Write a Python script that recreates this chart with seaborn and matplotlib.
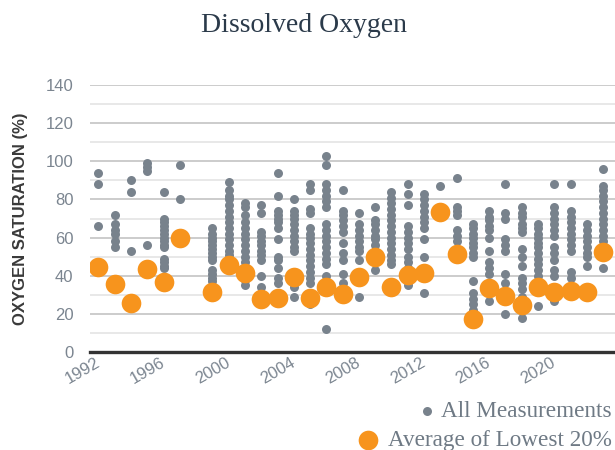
import numpy as np
import pandas as pd
import matplotlib
matplotlib.use("Agg")
import matplotlib.pyplot as plt
from matplotlib.ticker import MultipleLocator
import seaborn as sns

# sampling years (1998 has no data)
years = [1992, 1993, 1994, 1995, 1996, 1997, 1999, 2000, 2001, 2002, 2003,
         2004, 2005, 2006, 2007, 2008, 2009, 2010, 2011, 2012, 2013, 2014,
         2015, 2016, 2017, 2018, 2019, 2020, 2021, 2022, 2023]

# every measurement, one list per year (% saturation)
measurements = [
    [94, 88, 66, 45, 43],
    [72, 67, 64, 62, 58, 55, 36, 34],
    [90, 84, 53, 26, 25],
    [99, 97, 95, 56, 44, 43],
    [84, 70, 68, 66, 64, 62, 60, 58, 56, 55, 49, 47, 45, 44, 37, 35],
    [98, 80, 60, 59],
    [65, 62, 60, 58, 56, 54, 52, 50, 48, 43, 41, 39, 37, 34, 32, 29],
    [89, 85, 82, 80, 77, 74, 71, 68, 65, 62, 59, 56, 53, 51, 47, 44],
    [78, 76, 72, 68, 65, 62, 59, 56, 53, 50, 47, 44, 41, 38, 35],
    [77, 73, 63, 61, 58, 56, 53, 51, 48, 40, 34, 30, 28, 26],
    [94, 82, 74, 72, 70, 68, 65, 59, 50, 48, 44, 39, 36, 30, 28, 26],
    [80, 74, 72, 70, 67, 64, 61, 58, 55, 53, 40, 37, 34, 29],
    [88, 85, 75, 73, 65, 62, 60, 57, 54, 51, 48, 45, 42, 39, 36, 31, 28, 25],
    [103, 98, 88, 85, 82, 79, 76, 67, 64, 61, 58, 55, 52, 49, 46, 40, 34, 12],
    [85, 74, 72, 69, 66, 63, 57, 52, 48, 41, 36, 30],
    [73, 67, 64, 61, 58, 55, 53, 48, 41, 38, 29],
    [76, 69, 67, 64, 61, 59, 56, 53, 50, 47, 43],
    [84, 81, 78, 75, 72, 69, 66, 63, 60, 57, 54, 51, 48, 46, 36, 33],
    [88, 83, 77, 66, 63, 60, 57, 54, 50, 47, 44, 41, 38, 35],
    [83, 80, 77, 74, 71, 68, 65, 59, 50, 43, 41, 31],
    [87, 74],
    [91, 76, 74, 72, 64, 61, 58, 52],
    [67, 65, 62, 60, 57, 55, 52, 50, 37, 31, 28, 25, 22, 17, 15],
    [74, 71, 69, 66, 64, 60, 53, 47, 44, 41, 34, 27],
    [88, 73, 70, 59, 56, 53, 41, 36, 30, 20],
    [76, 73, 71, 67, 65, 63, 54, 50, 45, 39, 36, 33, 29, 24, 18],
    [67, 65, 62, 60, 57, 55, 52, 49, 46, 43, 40, 37, 33, 24],
    [88, 76, 73, 70, 67, 64, 61, 55, 52, 48, 43, 40, 32, 27],
    [88, 74, 71, 68, 65, 62, 59, 56, 53, 42, 39, 32, 30],
    [67, 64, 61, 58, 55, 52, 50, 45, 33, 31],
    [96, 87, 85, 82, 79, 76, 73, 70, 67, 64, 61, 58, 55, 52, 44],
]

# average of the lowest 20% per year
avg_lowest = [44.4, 35.5, 25.5, 43.5, 36.5, 59.6, 31.6, 45.6, 41.6, 27.8, 28.1,
              39.5, 28.1, 33.9, 30.4, 39.5, 49.6, 34.2, 40.4, 41.6, 73.6, 51.6,
              17.3, 33.4, 29.5, 24.6, 34.2, 31.6, 32.1, 31.6, 52.6]

tick_years = [1992, 1996, 2000, 2004, 2008, 2012, 2016, 2020]
y_ticks = [0, 20, 40, 60, 80, 100, 120, 140]

all_df = pd.DataFrame({
    "year": np.repeat(years, [len(m) for m in measurements]),
    "value": np.concatenate(measurements),
})
avg_df = pd.DataFrame({"year": years, "value": avg_lowest})

sns.set_theme(style="white")
plt.rcParams["font.family"] = ["Liberation Sans", "DejaVu Sans"]

gray = "#78828c"
orange = "#f7941d"
label_col = "#7b8590"

fig = plt.figure(figsize=(6.15, 4.5), dpi=100)
ax = fig.add_axes([90 / 615, 98 / 450, 525 / 615, 267 / 450])

sns.scatterplot(data=all_df, x="year", y="value", color=gray, s=42,
                linewidth=0, ax=ax, label="All Measurements", zorder=2)
sns.scatterplot(data=avg_df, x="year", y="value", color=orange, s=200,
                linewidth=0, ax=ax, label="Average of Lowest 20%", zorder=3)

handles, labels = ax.get_legend_handles_labels()
if ax.get_legend() is not None:
    ax.get_legend().remove()

ax.set_xlim(1991.48, 2023.73)
ax.set_ylim(0, 140)
ax.set_yticks(y_ticks)
ax.yaxis.set_minor_locator(MultipleLocator(10))
ax.set_xticks(tick_years)
ax.set_xticklabels([str(y) for y in tick_years])

ax.set_axisbelow(True)
ax.grid(which="major", axis="y", color="#cccccc", lw=1.4)
ax.grid(which="minor", axis="y", color="#e8e8e8", lw=1.4)
ax.grid(axis="x", visible=False)

for s in ["left", "right", "top"]:
    ax.spines[s].set_visible(False)
ax.spines["bottom"].set_color("#333333")
ax.spines["bottom"].set_linewidth(2.4)
ax.spines["bottom"].set_zorder(4)

ax.tick_params(axis="both", which="both", length=0, labelcolor=label_col,
               labelsize=12)
ax.tick_params(axis="y", pad=12)
ax.tick_params(axis="x", pad=7)
for t in ax.get_xticklabels():
    t.set_rotation(30)
    t.set_ha("right")
    t.set_va("center")
    t.set_rotation_mode("anchor")

ax.set_xlabel("")
ax.set_ylabel("OXYGEN SATURATION (%)", fontsize=12, fontweight="bold",
              color="#3a3a3a")
ax.yaxis.set_label_coords(-0.118, 0.5)

fig.text(304 / 615, 1 - 25 / 450, "Dissolved Oxygen", ha="center",
         va="center", family="Liberation Serif", size=20, color="#2b3a4a")

leg_font = dict(family="Liberation Serif", size=16.7)
fig.legend([handles[0]], [labels[0]], loc="center right",
           bbox_to_anchor=(612 / 615, 1 - 411 / 450), frameon=False,
           borderpad=0, borderaxespad=0, handlelength=0.6,
           handletextpad=0.3, prop=leg_font, labelcolor="#6f7a85")
fig.legend([handles[1]], [labels[1]], loc="center right",
           bbox_to_anchor=(612 / 615, 1 - 440 / 450), frameon=False,
           borderpad=0, borderaxespad=0, handlelength=1.0,
           handletextpad=0.35, prop=leg_font, labelcolor="#6f7a85")

fig.savefig("out.png", dpi=100)
